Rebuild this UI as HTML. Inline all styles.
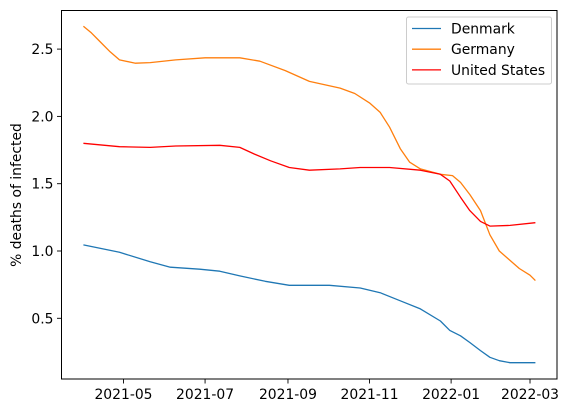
<!DOCTYPE html>
<html><head><meta charset="utf-8"><style>
body{margin:0;background:#fff}
svg{display:block;font-family:"DejaVu Sans","Liberation Sans",sans-serif}
</style></head><body>
<svg id="chart" width="568" height="413" viewBox="0 0 568 413" xmlns="http://www.w3.org/2000/svg"></svg>
<script>
// days since 2021-04-01
const denDays=[0,27,50,65,87,102,117,136,154,184,207,222,237,252,267,274,282,289,297,304,311,319,338];
const denVals=[1.045,0.99,0.92,0.88,0.865,0.85,0.815,0.775,0.745,0.745,0.725,0.69,0.63,0.57,0.48,0.41,0.37,0.32,0.26,0.21,0.185,0.17,0.17];
const gerDays=[0,6,12,20,27,39,50,69,91,117,132,151,169,192,203,214,222,229,237,244,252,267,276,282,289,297,304,311,319,326,334,338];
const gerVals=[2.67,2.62,2.56,2.48,2.42,2.395,2.40,2.42,2.435,2.435,2.41,2.34,2.26,2.21,2.17,2.10,2.03,1.92,1.76,1.66,1.61,1.57,1.56,1.51,1.42,1.30,1.12,1.00,0.93,0.87,0.82,0.78];
const usDays=[0,27,50,69,102,117,128,140,154,169,192,207,229,252,267,274,282,289,297,304,319,338];
const usVals=[1.80,1.775,1.77,1.78,1.785,1.77,1.72,1.67,1.62,1.60,1.61,1.62,1.62,1.60,1.57,1.52,1.40,1.30,1.22,1.185,1.19,1.21];
const yTicks=[0.5,1.0,1.5,2.0,2.5];
const xTickLabels=["2021-05","2021-07","2021-09","2021-11","2022-01","2022-03"];
const xTickDays=[30,91,153,214,275,334];

const NS="http://www.w3.org/2000/svg";
const svg=document.getElementById('chart');
const L=61.5,R=557,T=10.5,B=379;
const FS=13.9;
function xs(d){return 123.5+(d-30)*1.3372;}
function ys(v){return 318.3-(v-0.5)*134.6;}
function mk(tag,attrs,parent){const e=document.createElementNS(NS,tag);for(const k in attrs)e.setAttribute(k,attrs[k]);(parent||svg).appendChild(e);return e;}

function line(days,vals,color,name){
  const p=mk('path',{d:days.map((d,i)=>(i?'L':'M')+xs(d).toFixed(1)+','+ys(vals[i]).toFixed(1)).join(''),fill:'none',stroke:color,'stroke-width':1.3,'stroke-linejoin':'round'});
  
  
}
line(denDays,denVals,'#1f77b4','denmark-line');
line(gerDays,gerVals,'#ff7f0e','germany-line');
line(usDays,usVals,'#ff0000','united-states-line');

const frame=mk('rect',{x:L,y:T,width:R-L,height:B-T,fill:'none',stroke:'#000','stroke-width':1});



yTicks.forEach(v=>{
  const y=ys(v);
  const t=mk('line',{x1:L-4.5,x2:L,y1:y,y2:y,stroke:'#000','stroke-width':0.9});
  
  
  const tx=mk('text',{x:L-8,y:y+5,'text-anchor':'end','font-size':FS,fill:'#000'});
  tx.textContent=v.toFixed(1);
  
  
});
xTickDays.forEach((d,i)=>{
  const x=xs(d);
  const t=mk('line',{x1:x,x2:x,y1:B,y2:B+4.5,stroke:'#000','stroke-width':0.9});
  
  
  const tx=mk('text',{x:x,y:B+20,'text-anchor':'middle','font-size':FS,fill:'#000'});
  tx.textContent=xTickLabels[i];
  
  
});
const yl=mk('text',{x:0,y:0,transform:'translate(21,195) rotate(-90)','text-anchor':'middle','font-size':FS,fill:'#000'});
yl.textContent='% deaths of infected';



const lg=mk('g',{});


mk('rect',{x:406.5,y:17,width:145,height:67,rx:2,fill:'#fff',stroke:'#ccc','stroke-width':1},lg);
[['Denmark','#1f77b4'],['Germany','#ff7f0e'],['United States','#ff0000']].forEach((e,i)=>{
  const y=28.5+i*20.7;
  const g=mk('g',{},lg);
  
  
  mk('line',{x1:412,x2:441,y1:y,y2:y,stroke:e[1],'stroke-width':1.3},g);
  const t=mk('text',{x:451,y:y+5,'font-size':FS,fill:'#000'},g);
  t.textContent=e[0];
});
</script>
</body></html>
